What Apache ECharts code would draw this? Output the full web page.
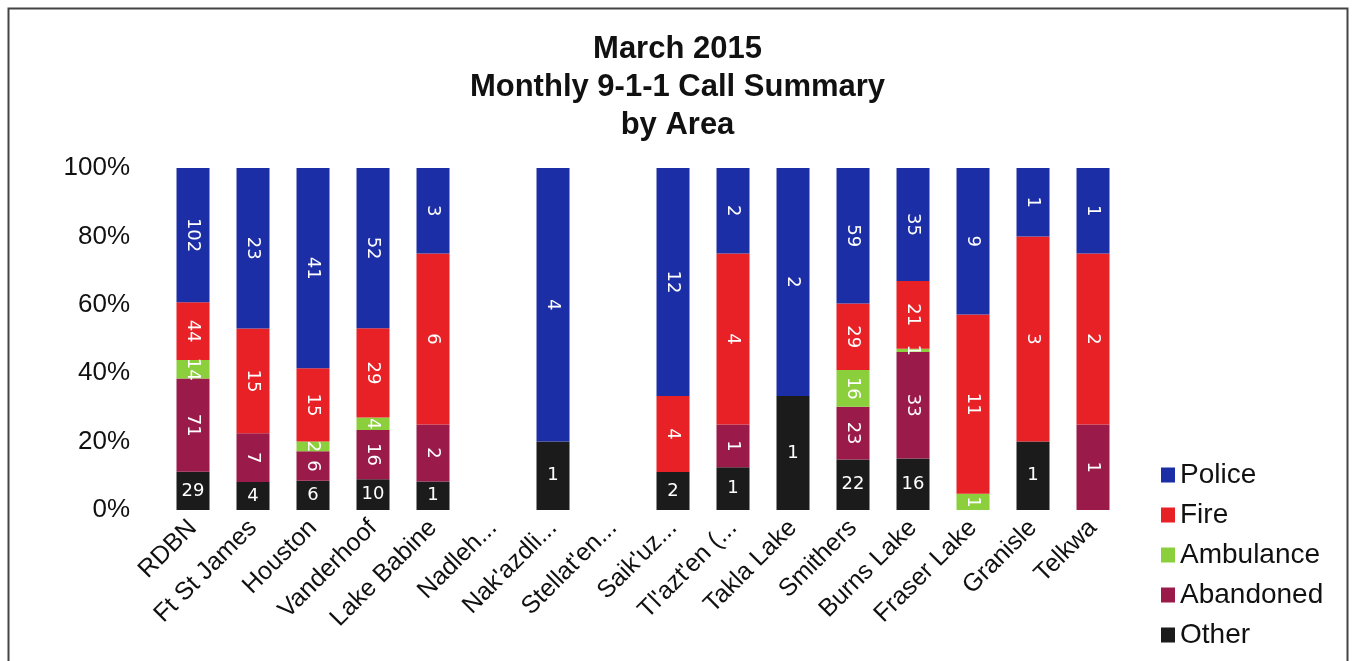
<!DOCTYPE html>
<html>
<head>
<meta charset="utf-8">
<script src="https://cdn.jsdelivr.net/npm/echarts@6/dist/echarts.min.js"></script>
<style>
  html, body { margin: 0; padding: 0; background: #fff; }
  #main { width: 1355px; height: 661px; }
</style>
</head>
<body>
<div id="main"></div>
<script>
// 地区
var areas = ["RDBN", "Ft St James", "Houston", "Vanderhoof", "Lake Babine", "Nadleh...",
  "Nak'azdli...", "Stellat'en...", "Saik'uz...", "Tl'azt'en (...", "Takla Lake",
  "Smithers", "Burns Lake", "Fraser Lake", "Granisle", "Telkwa"];

// call counts per area
var police    = [102, 23, 41, 52, 3, 0, 4, 0, 12, 2, 2, 59, 35, 9, 1, 1];
var fire      = [44, 15, 15, 29, 6, 0, 0, 0, 4, 4, 0, 29, 21, 11, 3, 2];
var ambulance = [14, 0, 2, 4, 0, 0, 0, 0, 0, 0, 0, 16, 1, 1, 0, 0];
var abandoned = [71, 7, 6, 16, 2, 0, 0, 0, 0, 1, 0, 23, 33, 0, 0, 1];
var other     = [29, 4, 6, 10, 1, 0, 1, 0, 2, 1, 1, 22, 16, 0, 1, 0];

var yTicks = ["0%", "20%", "40%", "60%", "80%", "100%"];

var totals = areas.map(function (a, i) {
  return police[i] + fire[i] + ambulance[i] + abandoned[i] + other[i];
});

function toPct(arr) {
  return arr.map(function (v, i) {
    return { value: totals[i] ? v / totals[i] * 100 : 0, raw: v };
  });
}

function makeSeries(name, arr, color, rotate) {
  return {
    name: name,
    type: "bar",
    stack: "total",
    barWidth: 33,
    data: toPct(arr),
    itemStyle: { color: color },
    label: {
      show: true,
      position: "inside",
      rotate: rotate,
      color: "#fff",
      fontSize: 18,
      fontFamily: "DejaVu Sans",
      formatter: function (p) {
        return p.data.raw > 0 ? String(p.data.raw) : "";
      }
    }
  };
}

var myChart = echarts.init(document.getElementById("main"));

var option = {
  animation: false,
  title: {
    text: "March 2015\nMonthly 9-1-1 Call Summary\nby Area",
    left: "center",
    top: 25,
    textStyle: {
      fontFamily: "Liberation Sans",
      fontWeight: "bold",
      fontSize: 31,
      lineHeight: 38,
      color: "#111"
    }
  },
  graphic: [{
    type: "rect",
    shape: { x: 8.5, y: 8.5, width: 1339, height: 700 },
    style: { fill: "none", stroke: "#444", lineWidth: 2 }
  }],
  legend: {
    orient: "vertical",
    left: 1156,
    top: 456,
    itemWidth: 14,
    itemHeight: 15,
    itemGap: 12,
    icon: "rect",
    textStyle: { fontFamily: "Liberation Sans", fontSize: 28, color: "#111" },
    data: ["Police", "Fire", "Ambulance", "Abandoned", "Other"]
  },
  grid: {
    left: 163,
    top: 168,
    width: 960,
    height: 342,
    containLabel: false
  },
  xAxis: {
    type: "category",
    data: areas,
    axisLine: { show: false },
    axisTick: { show: false },
    axisLabel: {
      interval: 0,
      rotate: 45,
      margin: 14,
      fontFamily: "Liberation Sans",
      fontSize: 25,
      color: "#111"
    }
  },
  yAxis: {
    type: "value",
    min: 0,
    max: 100,
    interval: 20,
    splitLine: { show: false },
    axisLine: { show: false },
    axisTick: { show: false },
    axisLabel: {
      margin: 33,
      fontFamily: "Liberation Sans",
      fontSize: 26,
      color: "#111",
      formatter: function (v) { return yTicks[v / 20]; }
    }
  },
  series: [
    makeSeries("Other", other, "#1b1b1b", 0),
    makeSeries("Abandoned", abandoned, "#9a1a4a", -90),
    makeSeries("Ambulance", ambulance, "#8bd03c", -90),
    makeSeries("Fire", fire, "#e82127", -90),
    makeSeries("Police", police, "#1c2ea6", -90)
  ]
};

myChart.setOption(option);
</script>
</body>
</html>
